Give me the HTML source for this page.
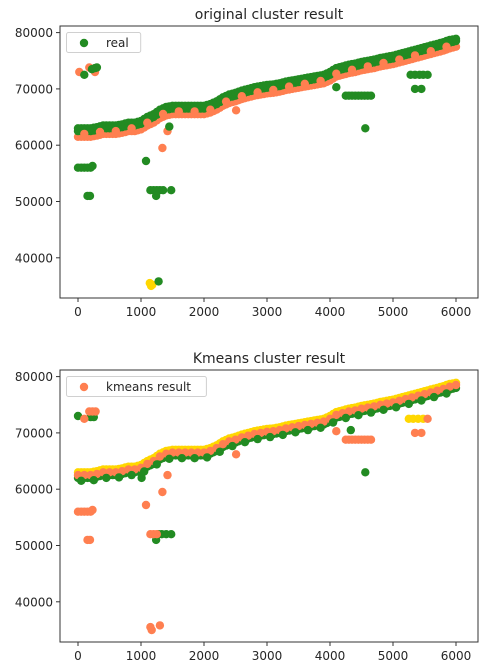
<!DOCTYPE html>
<html><head><meta charset="utf-8"><style>
html,body{margin:0;padding:0;background:#fff;}
svg{display:block;font-family:"DejaVu Sans","Liberation Sans",sans-serif;}
</style></head><body>
<svg id="fig" width="504" height="670" viewBox="0 0 504 670"></svg>
<script>
// ---- data ----
const bandX = [0,100,200,300,400,500,600,700,800,900,1000,1100,1200,1300,1400,1500,1600,1700,1800,1900,2000,2100,2200,2300,2400,2500,2600,2700,2800,2900,3000,3100,3200,3300,3400,3500,3600,3700,3800,3900,4000,4100,4200,4300,4400,4500,4600,4700,4800,4900,5000,5100,5200,5300,5400,5500,5600,5700,5800,5900,6000];
const bandHi = [63000,63000,63000,63200,63500,63500,63500,63700,64000,64000,64300,65000,65500,66300,66800,67000,67000,67000,67000,67000,67000,67300,67800,68500,69000,69300,69700,70000,70300,70500,70700,70800,71000,71300,71500,71700,71900,72100,72300,72500,73000,73700,74000,74300,74500,74800,75000,75200,75500,75700,75900,76200,76500,76800,77100,77400,77700,78000,78300,78700,78900];
const bandMid = [62500,62500,62500,62700,63000,63000,63000,63200,63500,63500,63800,64500,65000,65800,66300,66500,66500,66500,66500,66500,66500,66800,67300,68000,68500,68800,69200,69500,69800,70000,70200,70300,70500,70800,71000,71200,71400,71600,71800,72000,72500,73200,73500,73800,74000,74300,74500,74700,75000,75200,75400,75700,76000,76300,76600,76900,77200,77500,77800,78200,78500];
const bandLo = [62000,62000,62000,62200,62500,62500,62500,62700,63000,63000,63300,64000,64500,65300,65800,66000,66000,66000,66000,66000,66000,66300,66800,67500,68000,68300,68700,69000,69300,69500,69700,69800,70000,70300,70500,70700,70900,71100,71300,71500,72000,72700,73000,73300,73500,73800,74000,74200,74500,74700,74900,75200,75500,75800,76100,76400,76700,77000,77300,77700,78000];
const bandLow2 = [61500,61500,61500,61700,62000,62000,62000,62200,62500,62500,62800,63500,64000,64800,65300,65500,65500,65500,65500,65500,65500,65800,66300,67000,67500,67800,68200,68500,68800,69000,69200,69300,69500,69800,70000,70200,70400,70600,70800,71000,71500,72200,72500,72800,73000,73300,73500,73700,74000,74200,74400,74700,75000,75300,75600,75900,76200,76500,76800,77200,77500];

const topCoralOut = [[20,73000],[180,73800],[250,73500],[270,73000],[1340,59500],[1420,62500],[2510,66200]];
const topGreenOut = [[0,56000],[50,56000],[100,56000],[150,56000],[200,56000],[230,56300],[150,51000],[190,51000],[100,72500],[220,73500],[270,73700],[300,73800],[1080,57200],[1150,52000],[1200,52000],[1250,52000],[1300,52000],[1350,52000],[1480,52000],[1240,51000],[1280,35800],[1450,63300],[4250,68800],[4300,68800],[4350,68800],[4400,68800],[4450,68800],[4500,68800],[4550,68800],[4600,68800],[4650,68800],[4560,63000],[5280,72500],[5350,72500],[5420,72500],[5480,72500],[5550,72500],[5350,70000],[5450,70000],[4100,70300]];
const topGoldOut = [[1140,35500],[1160,35000],[1180,35200]];

const botGreenOut = [[0,73000],[200,72800],[250,72800],[1240,51000],[1280,52000],[1330,52000],[1400,52000],[1480,52000],[4560,63000],[1010,62000],[4330,70500]];
const botCoralOut = [[100,72500],[180,73800],[230,73800],[280,73800],[0,56000],[50,56000],[100,56000],[150,56000],[200,56000],[230,56300],[150,51000],[190,51000],[1080,57200],[1150,52000],[1200,52000],[1250,52000],[1340,59500],[1150,35500],[1170,35000],[1300,35800],[4250,68800],[4300,68800],[4350,68800],[4400,68800],[4450,68800],[4500,68800],[4550,68800],[4600,68800],[4650,68800],[5350,70000],[5450,70000],[5550,72500],[2510,66200],[4100,70300],[1420,62500]];
const botGoldOut = [[5250,72500],[5320,72500],[5400,72500],[5480,72500]];

const xTicks = [0,1000,2000,3000,4000,5000,6000];
const yTicks = [40000,50000,60000,70000,80000];

const GREEN="#228b22", CORAL="#ff7f50", GOLD="#ffd700";
const NS="http://www.w3.org/2000/svg";
const svg=document.getElementById('fig');
function el(tag,attrs,parent){const e=document.createElementNS(NS,tag);for(const k in attrs)e.setAttribute(k,attrs[k]);(parent||svg).appendChild(e);return e;}

function makeAxes(top,title,name){
  const L=60,R=478,T=top,B=top+272;
  const xs=v=>78+(v/1000)*63;
  const ys=v=>(T+6.6)+(80000-v)/10000*56.3;
  const g=el('g',{});
  
  
  const clip=el('clipPath',{id:'clip'+top},g);
  el('rect',{x:L,y:T,width:R-L,height:B-T},clip);
  const marks=el('g',{'clip-path':'url(#clip'+top+')'},g);
  
  
  function dots(pts,color,nm){
    const sg=el('g',{fill:color},marks);
    
    
    pts.forEach(p=>{
      const c=el('circle',{cx:xs(p[0]).toFixed(1),cy:ys(p[1]).toFixed(1),r:4.2},sg);
      
      
    });
  }
  function band(arr){const out=[];for(let i=0;i<bandX.length;i++){out.push([bandX[i],arr[i]]);if(i<bandX.length-1)out.push([(bandX[i]+bandX[i+1])/2,(arr[i]+arr[i+1])/2]);}return out;}
  return {g,L,R,T,B,xs,ys,dots,band,title};
}

function frame(a,title,legendLabel,legendColor,nm){
  const {g,L,R,T,B,xs,ys}=a;
  const fr=el('rect',{x:L,y:T,width:R-L,height:B-T,fill:'none',stroke:'#333','stroke-width':1},g);
  
  
  xTicks.forEach(v=>{
    const x=xs(v);
    el('line',{x1:x,x2:x,y1:B,y2:B+4,stroke:'#333'},g);
    const t=el('text',{x:x,y:B+18,'font-size':12,'text-anchor':'middle',fill:'#262626'},g);
    t.textContent=v;
    
    
  });
  yTicks.forEach(v=>{
    const y=ys(v);
    el('line',{x1:L-4,x2:L,y1:y,y2:y,stroke:'#333'},g);
    const t=el('text',{x:L-7,y:y+4.5,'font-size':12,'text-anchor':'end',fill:'#262626'},g);
    t.textContent=v;
    
    
  });
  const tt=el('text',{x:(L+R)/2,y:T-7,'font-size':14,'text-anchor':'middle',fill:'#262626'},g);
  tt.textContent=title;
  
  
  const lg=el('g',{},g);
  
  
  const w=legendLabel.length*7.3+45;
  el('rect',{x:L+6.5,y:T+6.5,width:w,height:20,rx:2,fill:'#fff','fill-opacity':0.85,stroke:'#d0d0d0'},lg);
  el('circle',{cx:L+24,cy:T+17,r:4.2,fill:legendColor},lg);
  const lt=el('text',{x:L+46,y:T+21,'font-size':12,fill:'#262626'},lg);
  lt.textContent=legendLabel;
}

// top chart
const a1=makeAxes(26,'original cluster result','top-chart');
a1.dots(a1.band(bandLow2),CORAL,'series-coral');
a1.dots(topCoralOut,CORAL,'series-coral-outliers');
a1.dots(topGoldOut,GOLD,'series-gold');
a1.dots(a1.band(bandMid),GREEN,'series-real-low');
a1.dots(a1.band(bandHi),GREEN,'series-real-high');
a1.dots(a1.band(bandLo).filter((p,i)=>i%5===2),CORAL,'series-coral-mixed');
a1.dots(topGreenOut,GREEN,'series-real-outliers');
frame(a1,'original cluster result','real',GREEN,'legend-real');

// bottom chart
const a2=makeAxes(370,'Kmeans cluster result','bottom-chart');
a2.dots(a2.band(bandHi),GOLD,'series-gold');
a2.dots(a2.band(bandLo),GREEN,'series-green');
a2.dots(botGreenOut,GREEN,'series-green-outliers');
a2.dots(a2.band(bandMid).filter((p,i)=>i%2===0),CORAL,'series-kmeans-band');
a2.dots(a2.band(bandLow2).filter((p,i)=>i%4===1),GREEN,'series-green-mixed');
a2.dots(botGoldOut,GOLD,'series-gold-outliers');
a2.dots(botCoralOut,CORAL,'series-kmeans-outliers');
frame(a2,'Kmeans cluster result','kmeans result',CORAL,'legend-kmeans');
</script>
</body></html>
